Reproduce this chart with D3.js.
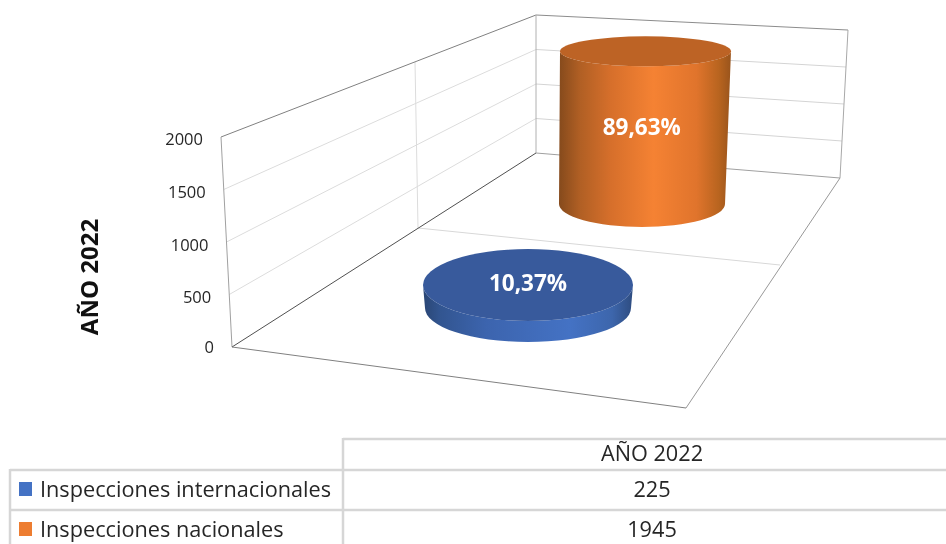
<!DOCTYPE html>
<html><head><meta charset="utf-8">
<script src="https://cdn.jsdelivr.net/npm/d3@7/dist/d3.min.js"></script>
<style>
html,body{margin:0;padding:0;background:#fff;overflow:hidden}
svg{display:block;filter:blur(0.4px)}
text{font-family:"Open Sans","Noto Sans",sans-serif}
</style></head><body>
<script>
const categories = ["Inspecciones internacionales", "Inspecciones nacionales"];
const seriesName = "AÑO 2022";
const values = [225, 1945];
const shareLabels = ["10,37%", "89,63%"];
const tickValues = [0, 500, 1000, 1500, 2000];

const W = 946, H = 544;
const svg = d3.select("body").append("svg").attr("width", W).attr("height", H);
const defs = svg.append("defs");

// --- 3D frame: each vertical corner of the box is a value scale
const corner = (bottom, top) => {
  const sx = d3.scaleLinear().domain([0, 2000]).range([bottom[0], top[0]]);
  const sy = d3.scaleLinear().domain([0, 2000]).range([bottom[1], top[1]]);
  return v => [sx(v), sy(v)];
};
const front = corner([232, 347], [221, 137]);
const back  = corner([536, 153], [536, 15]);
const right = corner([840, 178], [848, 30]);
const floorFront = [686, 408];
const line = d3.line();
const seg = (pts, color, w) => svg.append("path").attr("d", line(pts)).attr("fill", "none")
  .attr("stroke", color).attr("stroke-width", w || 1);

// gridlines
tickValues.slice(1, -1).forEach(v => {
  seg([front(v), back(v)], "#dcdcdc");
  seg([back(v), right(v)], "#d4d4d4");
});
seg([[415, 62], [418, 228]], "#dcdcdc");
seg([[418, 228], [780, 265]], "#d8d8d8");

// frame edges
seg([front(2000), back(2000)], "#808080");
seg([back(2000), right(2000)], "#8c8c8c");
seg([front(0), front(2000)], "#a0a0a0");
seg([back(0), back(2000)], "#b0b0b0");
seg([right(0), right(2000)], "#a8a8a8");
seg([back(0), right(0)], "#a0a0a0");
seg([front(0), back(0)], "#505050");
seg([front(0), floorFront], "#808080");
seg([floorFront, right(0)], "#989898");

// --- value axis, ticks follow the slanted front edge
const yAxis = d3.scaleLinear().domain([0, 2000]).range([front(0)[1], front(2000)[1]]);
const axisG = svg.append("g").call(d3.axisLeft(yAxis).tickValues(tickValues).tickSize(0).tickFormat(d3.format("d")));
axisG.select(".domain").remove();
axisG.selectAll("text")
  .attr("x", d => front(d)[0] - 18)
  .attr("y", d => d === 0 ? 0 : (d === 2000 ? 2 : 3))
  .attr("font-size", 16.5).attr("fill", "#262626")
  .style("font-family", '"Open Sans","Noto Sans",sans-serif');

// axis title
svg.append("text").attr("transform", "translate(98,277) rotate(-90)")
  .attr("text-anchor", "middle").attr("font-size", 24).attr("font-weight", 700)
  .attr("fill", "#111").text(seriesName);

// --- cylinders
const palette = [
  {top: "#385a9c", stops: [[0,"#2a4674"],[.08,"#325590"],[.3,"#3c64ae"],[.7,"#4472c4"],[.9,"#3d66ac"],[1,"#2e4c80"]]},
  {top: "#bd6325", stops: [[0,"#854a1c"],[.12,"#b05f24"],[.3,"#d66f2b"],[.55,"#f58233"],[.8,"#e0742c"],[.93,"#b8641f"],[1,"#99541c"]]}
];
const cylGeom = [
  {base: {cx: 528, cy: 308, rx: 103, ry: 34}, top: {cx: 528, rx: 105, ry: 36}, pxPer2000: 204, labelY: 283},
  {base: {cx: 642, cy: 204, rx: 83, ry: 23}, top: {cx: 645.5, rx: 85.5, ry: 15}, pxPer2000: 157, labelY: 127}
];
categories.forEach((c, i) => {
  const g = cylGeom[i], p = palette[i];
  const hScale = d3.scaleLinear().domain([0, 2000]).range([0, g.pxPer2000]);
  const topY = g.base.cy - hScale(values[i]);
  const id = "side" + i;
  const lg = defs.append("linearGradient").attr("id", id);
  p.stops.forEach(s => lg.append("stop").attr("offset", s[0]).attr("stop-color", s[1]));
  const b = g.base, t = g.top;
  const d = `M${t.cx - t.rx},${topY}L${b.cx - b.rx},${b.cy}`
    + `A${b.rx},${b.ry} 0 0 0 ${b.cx + b.rx},${b.cy}`
    + `L${t.cx + t.rx},${topY}A${t.rx},${t.ry} 0 0 1 ${t.cx - t.rx},${topY}Z`;
  svg.append("path").attr("d", d).attr("fill", `url(#${id})`);
  svg.append("ellipse").attr("cx", t.cx).attr("cy", topY).attr("rx", t.rx).attr("ry", t.ry).attr("fill", p.top);
  svg.append("text").attr("x", (b.cx + t.cx) / 2 - (i ? 2 : 0)).attr("y", g.labelY).attr("dy", "0.35em")
    .attr("text-anchor", "middle").attr("font-size", 22.5).attr("font-weight", 700)
    .attr("fill", "#fff").text(shareLabels[i]);
});

// --- data table
const rule = "#d6d6d6";
const tbl = svg.append("g");
const tl = (x1, y1, x2, y2) => tbl.append("line").attr("x1", x1).attr("y1", y1).attr("x2", x2).attr("y2", y2)
  .attr("stroke", rule).attr("stroke-width", 2.5);
tl(343, 439, W, 439);
tl(10, 470, W, 470);
tl(10, 510, W, 510);
tl(343, 438, 343, H);
tl(10, 469, 10, H);

const rowY = d3.scalePoint().domain(categories).range([489, 529]);
const cellText = (x, y, s, anchor) => tbl.append("text").attr("x", x).attr("y", y).attr("dy", "0.35em")
  .attr("text-anchor", anchor).attr("font-size", 21.7).attr("fill", "#262626").text(s);
cellText(652, 453, seriesName, "middle");
const swatch = ["#4472c4", "#ed7d31"];
categories.forEach((c, i) => {
  const y = rowY(c);
  tbl.append("rect").attr("x", 19).attr("y", y - 7).attr("width", 13).attr("height", 14).attr("fill", swatch[i]);
  cellText(40, y, c, "start");
  cellText(652, y, String(values[i]), "middle");
});
</script>
</body></html>
